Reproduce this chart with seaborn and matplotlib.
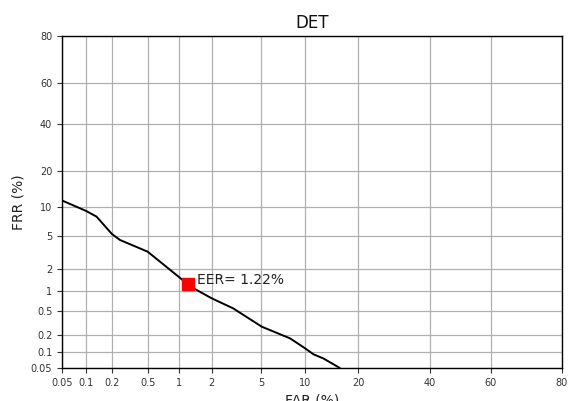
import numpy as np
import pandas as pd
import matplotlib
matplotlib.use("Agg")
import matplotlib.pyplot as plt
import seaborn as sns
from statistics import NormalDist

far = [0.05, 0.1, 0.133, 0.2, 0.247, 0.49, 1.07, 1.23, 1.42, 2.0, 3.04, 5.05, 7.99, 9.3, 10.0, 11.3, 12.9, 16.0]
frr = [11.4, 9.07, 7.97, 5.23, 4.48, 3.27, 1.44, 1.2, 1.05, 0.77, 0.54, 0.275, 0.174, 0.133, 0.116, 0.090, 0.076, 0.05]
eer_far = [1.22]
eer_frr = [1.22]
ticks = [0.05, 0.1, 0.2, 0.5, 1, 2, 5, 10, 20, 40, 60, 80]
tick_labels = ["0.05", "0.1", "0.2", "0.5", "1", "2", "5", "10", "20", "40", "60", "80"]

nd = NormalDist()
_ppf = np.vectorize(nd.inv_cdf, otypes=[float])
_cdf = np.vectorize(nd.cdf, otypes=[float])

def fwd(p):
    a = np.clip(np.asarray(p, float) / 100.0, 1e-9, 1 - 1e-9)
    return _ppf(a)

def inv(z):
    return _cdf(np.asarray(z, float)) * 100.0

sns.set_style("white")
fig = plt.figure(figsize=(5.68, 4.01), dpi=100)
ax = fig.add_axes([62/568, 1-368/401, 500/568, 332/401])
ax.set_xscale("function", functions=(fwd, inv))
ax.set_yscale("function", functions=(fwd, inv))

df = pd.DataFrame({"FAR": far, "FRR": frr})
sns.lineplot(data=df, x="FAR", y="FRR", sort=False, estimator=None, color="black", linewidth=1.4, ax=ax, zorder=3)
ax.plot(eer_far, eer_frr, marker="s", color="red", markersize=9, linestyle="none", zorder=4)
ax.annotate("EER= %.2f%%" % eer_far[0], xy=(eer_far[0], eer_frr[0]), xytext=(6.5, 3),
            textcoords="offset points", fontsize=10, va="center", ha="left", color="#222222")

ax.set_xlim(0.05, 80)
ax.set_ylim(0.05, 80)
ax.set_xticks(ticks)
ax.set_xticklabels(tick_labels)
ax.set_yticks(ticks)
ax.set_yticklabels(tick_labels)
ax.minorticks_off()
ax.tick_params(axis="both", which="major", labelsize=7, length=3.5, width=0.8, direction="out",
               colors="#333333", bottom=True, left=True)
ax.grid(True, color="#b0b0b0", linewidth=0.9)
for s in ax.spines.values():
    s.set_color("black")
    s.set_linewidth(1.0)
ax.set_xlabel("FAR (%)", fontsize=10, color="#222222", labelpad=4)
ax.set_ylabel("FRR (%)", fontsize=10, color="#222222")
ax.set_title("DET", fontsize=12, color="#111111")

fig.savefig("out.png", dpi=100)
